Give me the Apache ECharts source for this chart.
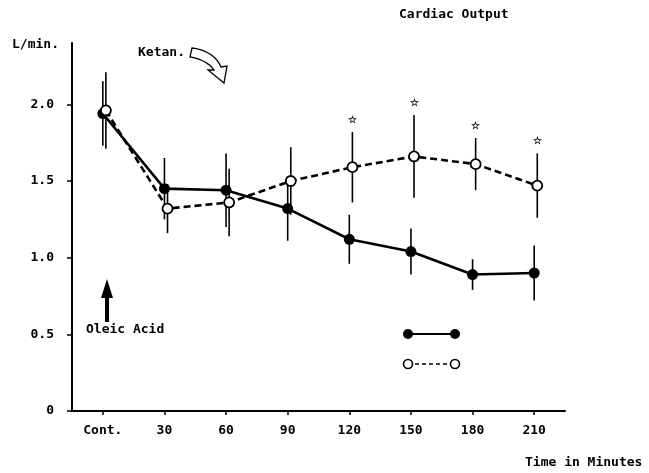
<!DOCTYPE html>
<html>
<head>
<meta charset="utf-8">
<script src="https://cdn.jsdelivr.net/npm/echarts@6/dist/echarts.min.js"></script>
<style>
  html, body { margin: 0; padding: 0; background: #fff; }
  #chart { width: 649px; height: 473px; }
</style>
</head>
<body>
<div id="chart"></div>
<script>
// categories on the x axis (time after oleic acid)
const categories = ["Cont.", "30", "60", "90", "120", "150", "180", "210"];
// filled circles, solid line
const filledMean = [1.94, 1.45, 1.44, 1.32, 1.12, 1.04, 0.89, 0.90];
const filledErr = [0.21, 0.20, 0.24, 0.21, 0.16, 0.15, 0.10, 0.18];
// open circles, dashed line (Ketan.)
const openMean = [1.96, 1.32, 1.36, 1.50, 1.59, 1.66, 1.61, 1.47];
const openErr = [0.25, 0.16, 0.22, 0.22, 0.23, 0.27, 0.17, 0.21];
// significance stars over the open series
const openSig = [0, 0, 0, 0, 1, 1, 1, 1];
const yTicks = [0, 0.5, 1.0, 1.5, 2.0];

const FONT = "DejaVu Sans Mono";
const OPEN_SHIFT = 0.05; // open series is drawn a little right of the filled one

const chart = echarts.init(document.getElementById("chart"));

const toPoints = (vals, shift) => vals.map((v, i) => [i + shift, v]);
const toBars = (vals, errs, shift, sig) =>
  vals.map((v, i) => [i + shift, v, errs[i], sig ? sig[i] : 0]);

// quadratic curve sampled into points (for the hollow arrow outline)
const quad = (p0, c, p1, n) => {
  const pts = [];
  for (let k = 0; k <= n; k++) {
    const t = k / n, u = 1 - t;
    pts.push([u * u * p0[0] + 2 * u * t * c[0] + t * t * p1[0],
              u * u * p0[1] + 2 * u * t * c[1] + t * t * p1[1]]);
  }
  return pts;
};
const ketanArrow = []
  .concat(quad([192, 48], [214, 51], [221, 67], 10))
  .concat([[227, 66], [224, 83], [208, 70], [214, 70]])
  .concat(quad([214, 70], [207, 60], [190, 57], 10));

// vertical error bar (+ optional star) for each point
const errorBar = (params, api) => {
  const x = api.value(0), y = api.value(1), e = api.value(2);
  const top = api.coord([x, y + e]);
  const bot = api.coord([x, y - e]);
  const children = [{
    type: "line",
    shape: { x1: top[0], y1: top[1], x2: bot[0], y2: bot[1] },
    style: { stroke: "#000", lineWidth: 1.6 }
  }];
  if (api.value(3)) {
    children.push({
      type: "text",
      style: {
        text: "☆", x: top[0], y: top[1] - 7,
        align: "center", verticalAlign: "bottom",
        fontSize: 10, fontWeight: "bold", fill: "#000"
      }
    });
  }
  return { type: "group", children: children };
};

const textStyle = { fontFamily: FONT, fontSize: 13, fontWeight: "bold", fill: "#000" };

const option = {
  backgroundColor: "#fff",
  animation: false,
  grid: { left: 72, right: 84, top: 43, bottom: 62 },
  xAxis: {
    type: "value",
    min: -0.5,
    max: 7.5,
    splitLine: { show: false },
    axisLine: { show: true, lineStyle: { color: "#000", width: 2 } },
    axisTick: {
      show: true, length: 4, customValues: [0, 1, 2, 3, 4, 5, 6, 7],
      lineStyle: { color: "#000", width: 1.5 }
    },
    axisLabel: {
      customValues: [0, 1, 2, 3, 4, 5, 6, 7],
      formatter: (v) => categories[Math.round(v)],
      color: "#000", fontFamily: FONT, fontSize: 13, fontWeight: "bold", margin: 13
    }
  },
  yAxis: {
    type: "value",
    min: 0,
    max: 2.4,
    splitLine: { show: false },
    axisLine: { show: true, onZero: false, lineStyle: { color: "#000", width: 2 } },
    axisTick: {
      show: true, length: 5, customValues: yTicks,
      lineStyle: { color: "#000", width: 1.5 }
    },
    axisLabel: {
      customValues: yTicks,
      formatter: (v) => (v === 0 ? "0" : v.toFixed(1)),
      color: "#000", fontFamily: FONT, fontSize: 13, fontWeight: "bold", margin: 18
    }
  },
  series: [
    {
      type: "custom",
      renderItem: errorBar,
      data: toBars(filledMean, filledErr, 0),
      z: 1
    },
    {
      type: "custom",
      renderItem: errorBar,
      data: toBars(openMean, openErr, OPEN_SHIFT, openSig),
      z: 1
    },
    {
      name: "filled",
      type: "line",
      data: toPoints(filledMean, 0),
      symbol: "circle",
      symbolSize: 11,
      itemStyle: { color: "#000" },
      lineStyle: { color: "#000", width: 2.6 },
      z: 3
    },
    {
      name: "open",
      type: "line",
      data: toPoints(openMean, OPEN_SHIFT),
      symbol: "circle",
      symbolSize: 10,
      showAllSymbol: true,
      itemStyle: { color: "#fff", borderColor: "#000", borderWidth: 1.8 },
      lineStyle: { color: "#000", width: 2.6, type: [7, 4] },
      z: 4
    }
  ],
  graphic: [
    { type: "text", left: 12, top: 38, style: Object.assign({ text: "L/min." }, textStyle) },
    { type: "text", left: 399, top: 8, style: Object.assign({ text: "Cardiac Output" }, textStyle) },
    { type: "text", left: 525, top: 456, style: Object.assign({ text: "Time in Minutes" }, textStyle) },
    { type: "text", left: 138, top: 46, style: Object.assign({ text: "Ketan." }, textStyle) },
    { type: "text", left: 86, top: 323, style: Object.assign({ text: "Oleic Acid" }, textStyle) },
    // curved hollow arrow next to "Ketan."
    {
      type: "polygon",
      shape: { points: ketanArrow },
      style: { fill: "#fff", stroke: "#000", lineWidth: 1.3 },
      z: 10
    },
    // black up arrow above "Oleic Acid"
    {
      type: "polygon",
      shape: { points: [[107, 279], [113, 298], [109, 298], [109, 322], [105, 322], [105, 298], [101, 298]] },
      style: { fill: "#000" },
      z: 10
    },
    // legend symbols (no text)
    { type: "line", shape: { x1: 408, y1: 334, x2: 455, y2: 334 }, style: { stroke: "#000", lineWidth: 2 }, z: 10 },
    { type: "circle", shape: { cx: 408, cy: 334, r: 5 }, style: { fill: "#000" }, z: 11 },
    { type: "circle", shape: { cx: 455, cy: 334, r: 5 }, style: { fill: "#000" }, z: 11 },
    { type: "line", shape: { x1: 408, y1: 364, x2: 455, y2: 364 }, style: { stroke: "#000", lineWidth: 1.6, lineDash: [4, 3] }, z: 10 },
    { type: "circle", shape: { cx: 408, cy: 364, r: 4.5 }, style: { fill: "#fff", stroke: "#000", lineWidth: 1.6 }, z: 11 },
    { type: "circle", shape: { cx: 455, cy: 364, r: 4.5 }, style: { fill: "#fff", stroke: "#000", lineWidth: 1.6 }, z: 11 }
  ]
};

chart.setOption(option);
</script>
</body>
</html>
